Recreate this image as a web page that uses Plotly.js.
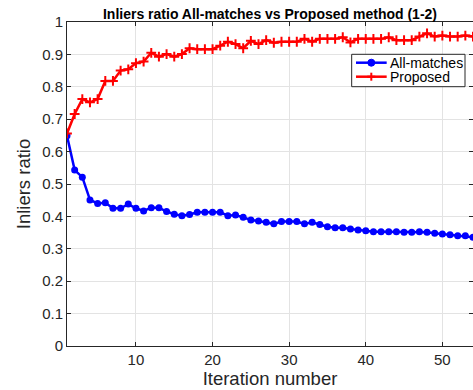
<!DOCTYPE html>
<html>
<head>
<meta charset="utf-8">
<script src="https://cdn.plot.ly/plotly-3.0.1.min.js"></script>
<style>html,body{margin:0;padding:0;background:#fff;}#chart{width:473px;height:390px;}</style>
</head>
<body>
<div id="chart"></div>
<script>
const iterations = [1,2,3,4,5,6,7,8,9,10,11,12,13,14,15,16,17,18,19,20,21,22,23,24,25,26,27,28,29,30,31,32,33,34,35,36,37,38,39,40,41,42,43,44,45,46,47,48,49,50,51,52,53,54];
const allMatches = [0.649,0.543,0.521,0.451,0.440,0.442,0.425,0.425,0.438,0.425,0.417,0.427,0.427,0.415,0.407,0.402,0.406,0.413,0.413,0.413,0.413,0.402,0.404,0.397,0.389,0.386,0.382,0.377,0.384,0.384,0.384,0.377,0.382,0.375,0.368,0.365,0.365,0.361,0.358,0.356,0.353,0.353,0.353,0.353,0.351,0.351,0.353,0.351,0.348,0.346,0.343,0.340,0.340,0.336];
const proposed = [0.656,0.716,0.762,0.752,0.762,0.818,0.818,0.850,0.854,0.873,0.878,0.905,0.893,0.901,0.893,0.901,0.919,0.916,0.916,0.916,0.927,0.939,0.932,0.919,0.942,0.932,0.944,0.936,0.939,0.939,0.939,0.948,0.939,0.948,0.948,0.948,0.953,0.937,0.948,0.948,0.948,0.948,0.953,0.944,0.944,0.944,0.955,0.965,0.955,0.958,0.955,0.955,0.958,0.955];
const seriesNames = ['All-matches', 'Proposed'];
const seriesColors = ['#0000ff', '#ff0000'];
const xTicks = [10,20,30,40,50];
const yTicks = [0,0.1,0.2,0.3,0.4,0.5,0.6,0.7,0.8,0.9,1];
const yTickText = ["0","0.1","0.2","0.3","0.4","0.5","0.6","0.7","0.8","0.9","1"];

const axisColor = '#262626';
const traces = [
  {x: iterations, y: allMatches, name: seriesNames[0], mode: 'lines+markers', showlegend: false,
   line: {color: seriesColors[0], width: 2.5},
   marker: {symbol: 'circle', size: 7, color: seriesColors[0]}},
  {x: iterations, y: proposed, name: seriesNames[1], mode: 'lines+markers', showlegend: false,
   line: {color: seriesColors[1], width: 2.5},
   marker: {symbol: 'cross-thin', size: 7, color: seriesColors[1], line: {color: seriesColors[1], width: 2}}}
];

// Compact MATLAB-style legend built from shapes + annotations (paper coordinates)
const lg = {x0: 0.7012, x1: 0.9803, y0: 0.8003, y1: 0.9003,
            lx0: 0.7118, lx1: 0.7874, mx: 0.7495, tx: 0.7906, rows: [0.8744, 0.8312]};
const rx = 3.5/406, ry = 3.5/324, cx = 4/406, cy = 4/324;
const shapes = [
  {type: 'rect', xref: 'paper', yref: 'paper', x0: lg.x0, x1: lg.x1, y0: lg.y0, y1: lg.y1,
   fillcolor: '#fff', line: {color: axisColor, width: 1}, layer: 'above'}
];
const annotations = [];
lg.rows.forEach((yy, i) => {
  shapes.push({type: 'line', xref: 'paper', yref: 'paper', x0: lg.lx0, x1: lg.lx1, y0: yy, y1: yy,
               line: {color: seriesColors[i], width: 2.5}, layer: 'above'});
  if (i === 0) {
    shapes.push({type: 'circle', xref: 'paper', yref: 'paper', x0: lg.mx - rx, x1: lg.mx + rx, y0: yy - ry, y1: yy + ry,
                 fillcolor: seriesColors[i], line: {color: seriesColors[i], width: 1}, layer: 'above'});
  } else {
    shapes.push({type: 'line', xref: 'paper', yref: 'paper', x0: lg.mx, x1: lg.mx, y0: yy - cy, y1: yy + cy,
                 line: {color: seriesColors[i], width: 2}, layer: 'above'});
    shapes.push({type: 'line', xref: 'paper', yref: 'paper', x0: lg.mx - cx, x1: lg.mx + cx, y0: yy, y1: yy,
                 line: {color: seriesColors[i], width: 2}, layer: 'above'});
  }
  annotations.push({xref: 'paper', yref: 'paper', x: lg.tx, y: yy, xanchor: 'left', yanchor: 'middle',
                    text: seriesNames[i], showarrow: false, font: {size: 14, color: '#000'}});
});

const layout = {
  width: 473, height: 390,
  margin: {l: 67, r: 0, t: 22, b: 44},
  paper_bgcolor: '#fff', plot_bgcolor: '#fff',
  font: {family: 'Liberation Sans, Arial, sans-serif', color: axisColor, size: 15},
  title: {text: '<b>Inliers ratio All-matches vs Proposed method (1-2)</b>', font: {size: 14, color: '#000'},
          x: 0.5, xref: 'paper', xanchor: 'center', y: 1, yref: 'paper', yanchor: 'bottom', pad: {b: 3}},
  xaxis: {range: [1, 54], tickvals: xTicks, ticks: 'inside', ticklen: 4, tickcolor: axisColor,
          showline: true, linecolor: axisColor, linewidth: 1, mirror: 'ticks',
          showgrid: true, gridcolor: '#e3e3e3', gridwidth: 1, zeroline: false,
          tickfont: {size: 15}, title: {text: 'Iteration number', font: {size: 18.5}, standoff: 0}},
  yaxis: {range: [0, 1], tickvals: yTicks, ticktext: yTickText, ticks: 'inside', ticklen: 4, tickcolor: axisColor,
          showline: true, linecolor: axisColor, linewidth: 1, mirror: 'ticks',
          showgrid: true, gridcolor: '#e3e3e3', gridwidth: 1, zeroline: false,
          tickfont: {size: 15}, title: {text: 'Inliers ratio', font: {size: 18.5}, standoff: 6}},
  shapes: shapes,
  annotations: annotations,
  showlegend: false
};
Plotly.newPlot('chart', traces, layout, {displayModeBar: false, staticPlot: true});
</script>
</body>
</html>
